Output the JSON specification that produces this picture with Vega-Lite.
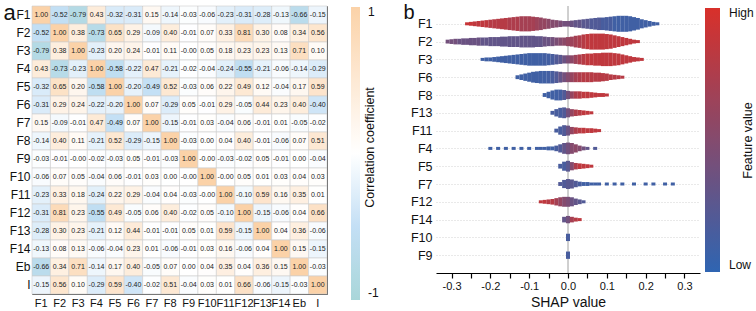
{
"$schema": "https://vega.github.io/schema/vega-lite/v6.json",
"padding": {"left": 2, "top": 0, "right": 0, "bottom": 0},
"spacing": 23,
"config": {"font": "Liberation Sans", "axis": {"labelColor": "#111", "titleColor": "#111", "titleFontWeight": "normal"}, "title": {"fontWeight": "normal", "color": "#111"}, "legend": {"labelColor": "#111"}},
"resolve": {"scale": {"color": "independent", "size": "independent"}, "legend": {"color": "independent"}},
"hconcat": [
{
"width": 295, "height": 288,
"view": {"stroke": "#555", "strokeWidth": 1},
"data": {"values": [
{"r":"F1","c":"F1","v":1.00,"t":"1.00"},{"r":"F1","c":"F2","v":-0.52,"t":"-0.52"},{"r":"F1","c":"F3","v":-0.79,"t":"-0.79"},{"r":"F1","c":"F4","v":0.43,"t":"0.43"},{"r":"F1","c":"F5","v":-0.32,"t":"-0.32"},{"r":"F1","c":"F6","v":-0.31,"t":"-0.31"},{"r":"F1","c":"F7","v":0.15,"t":"0.15"},{"r":"F1","c":"F8","v":-0.14,"t":"-0.14"},{"r":"F1","c":"F9","v":-0.03,"t":"-0.03"},{"r":"F1","c":"F10","v":-0.06,"t":"-0.06"},{"r":"F1","c":"F11","v":-0.23,"t":"-0.23"},{"r":"F1","c":"F12","v":-0.31,"t":"-0.31"},{"r":"F1","c":"F13","v":-0.28,"t":"-0.28"},{"r":"F1","c":"F14","v":-0.13,"t":"-0.13"},{"r":"F1","c":"Eb","v":-0.66,"t":"-0.66"},{"r":"F1","c":"I","v":-0.15,"t":"-0.15"},
{"r":"F2","c":"F1","v":-0.52,"t":"-0.52"},{"r":"F2","c":"F2","v":1.00,"t":"1.00"},{"r":"F2","c":"F3","v":0.38,"t":"0.38"},{"r":"F2","c":"F4","v":-0.73,"t":"-0.73"},{"r":"F2","c":"F5","v":0.65,"t":"0.65"},{"r":"F2","c":"F6","v":0.29,"t":"0.29"},{"r":"F2","c":"F7","v":-0.09,"t":"-0.09"},{"r":"F2","c":"F8","v":0.40,"t":"0.40"},{"r":"F2","c":"F9","v":-0.01,"t":"-0.01"},{"r":"F2","c":"F10","v":0.07,"t":"0.07"},{"r":"F2","c":"F11","v":0.33,"t":"0.33"},{"r":"F2","c":"F12","v":0.81,"t":"0.81"},{"r":"F2","c":"F13","v":0.30,"t":"0.30"},{"r":"F2","c":"F14","v":0.08,"t":"0.08"},{"r":"F2","c":"Eb","v":0.34,"t":"0.34"},{"r":"F2","c":"I","v":0.56,"t":"0.56"},
{"r":"F3","c":"F1","v":-0.79,"t":"-0.79"},{"r":"F3","c":"F2","v":0.38,"t":"0.38"},{"r":"F3","c":"F3","v":1.00,"t":"1.00"},{"r":"F3","c":"F4","v":-0.23,"t":"-0.23"},{"r":"F3","c":"F5","v":0.20,"t":"0.20"},{"r":"F3","c":"F6","v":0.24,"t":"0.24"},{"r":"F3","c":"F7","v":-0.01,"t":"-0.01"},{"r":"F3","c":"F8","v":0.11,"t":"0.11"},{"r":"F3","c":"F9","v":-0.00,"t":"-0.00"},{"r":"F3","c":"F10","v":0.05,"t":"0.05"},{"r":"F3","c":"F11","v":0.18,"t":"0.18"},{"r":"F3","c":"F12","v":0.23,"t":"0.23"},{"r":"F3","c":"F13","v":0.23,"t":"0.23"},{"r":"F3","c":"F14","v":0.13,"t":"0.13"},{"r":"F3","c":"Eb","v":0.71,"t":"0.71"},{"r":"F3","c":"I","v":0.10,"t":"0.10"},
{"r":"F4","c":"F1","v":0.43,"t":"0.43"},{"r":"F4","c":"F2","v":-0.73,"t":"-0.73"},{"r":"F4","c":"F3","v":-0.23,"t":"-0.23"},{"r":"F4","c":"F4","v":1.00,"t":"1.00"},{"r":"F4","c":"F5","v":-0.58,"t":"-0.58"},{"r":"F4","c":"F6","v":-0.22,"t":"-0.22"},{"r":"F4","c":"F7","v":0.47,"t":"0.47"},{"r":"F4","c":"F8","v":-0.21,"t":"-0.21"},{"r":"F4","c":"F9","v":-0.02,"t":"-0.02"},{"r":"F4","c":"F10","v":-0.04,"t":"-0.04"},{"r":"F4","c":"F11","v":-0.24,"t":"-0.24"},{"r":"F4","c":"F12","v":-0.55,"t":"-0.55"},{"r":"F4","c":"F13","v":-0.21,"t":"-0.21"},{"r":"F4","c":"F14","v":-0.06,"t":"-0.06"},{"r":"F4","c":"Eb","v":-0.14,"t":"-0.14"},{"r":"F4","c":"I","v":-0.29,"t":"-0.29"},
{"r":"F5","c":"F1","v":-0.32,"t":"-0.32"},{"r":"F5","c":"F2","v":0.65,"t":"0.65"},{"r":"F5","c":"F3","v":0.20,"t":"0.20"},{"r":"F5","c":"F4","v":-0.58,"t":"-0.58"},{"r":"F5","c":"F5","v":1.00,"t":"1.00"},{"r":"F5","c":"F6","v":-0.20,"t":"-0.20"},{"r":"F5","c":"F7","v":-0.49,"t":"-0.49"},{"r":"F5","c":"F8","v":0.52,"t":"0.52"},{"r":"F5","c":"F9","v":-0.03,"t":"-0.03"},{"r":"F5","c":"F10","v":0.06,"t":"0.06"},{"r":"F5","c":"F11","v":0.22,"t":"0.22"},{"r":"F5","c":"F12","v":0.49,"t":"0.49"},{"r":"F5","c":"F13","v":0.12,"t":"0.12"},{"r":"F5","c":"F14","v":-0.04,"t":"-0.04"},{"r":"F5","c":"Eb","v":0.17,"t":"0.17"},{"r":"F5","c":"I","v":0.59,"t":"0.59"},
{"r":"F6","c":"F1","v":-0.31,"t":"-0.31"},{"r":"F6","c":"F2","v":0.29,"t":"0.29"},{"r":"F6","c":"F3","v":0.24,"t":"0.24"},{"r":"F6","c":"F4","v":-0.22,"t":"-0.22"},{"r":"F6","c":"F5","v":-0.20,"t":"-0.20"},{"r":"F6","c":"F6","v":1.00,"t":"1.00"},{"r":"F6","c":"F7","v":0.07,"t":"0.07"},{"r":"F6","c":"F8","v":-0.29,"t":"-0.29"},{"r":"F6","c":"F9","v":0.05,"t":"0.05"},{"r":"F6","c":"F10","v":-0.01,"t":"-0.01"},{"r":"F6","c":"F11","v":0.29,"t":"0.29"},{"r":"F6","c":"F12","v":-0.05,"t":"-0.05"},{"r":"F6","c":"F13","v":0.44,"t":"0.44"},{"r":"F6","c":"F14","v":0.23,"t":"0.23"},{"r":"F6","c":"Eb","v":0.40,"t":"0.40"},{"r":"F6","c":"I","v":-0.40,"t":"-0.40"},
{"r":"F7","c":"F1","v":0.15,"t":"0.15"},{"r":"F7","c":"F2","v":-0.09,"t":"-0.09"},{"r":"F7","c":"F3","v":-0.01,"t":"-0.01"},{"r":"F7","c":"F4","v":0.47,"t":"0.47"},{"r":"F7","c":"F5","v":-0.49,"t":"-0.49"},{"r":"F7","c":"F6","v":0.07,"t":"0.07"},{"r":"F7","c":"F7","v":1.00,"t":"1.00"},{"r":"F7","c":"F8","v":-0.15,"t":"-0.15"},{"r":"F7","c":"F9","v":-0.01,"t":"-0.01"},{"r":"F7","c":"F10","v":0.03,"t":"0.03"},{"r":"F7","c":"F11","v":-0.04,"t":"-0.04"},{"r":"F7","c":"F12","v":0.06,"t":"0.06"},{"r":"F7","c":"F13","v":-0.01,"t":"-0.01"},{"r":"F7","c":"F14","v":0.01,"t":"0.01"},{"r":"F7","c":"Eb","v":-0.05,"t":"-0.05"},{"r":"F7","c":"I","v":-0.02,"t":"-0.02"},
{"r":"F8","c":"F1","v":-0.14,"t":"-0.14"},{"r":"F8","c":"F2","v":0.40,"t":"0.40"},{"r":"F8","c":"F3","v":0.11,"t":"0.11"},{"r":"F8","c":"F4","v":-0.21,"t":"-0.21"},{"r":"F8","c":"F5","v":0.52,"t":"0.52"},{"r":"F8","c":"F6","v":-0.29,"t":"-0.29"},{"r":"F8","c":"F7","v":-0.15,"t":"-0.15"},{"r":"F8","c":"F8","v":1.00,"t":"1.00"},{"r":"F8","c":"F9","v":-0.03,"t":"-0.03"},{"r":"F8","c":"F10","v":0.00,"t":"0.00"},{"r":"F8","c":"F11","v":0.04,"t":"0.04"},{"r":"F8","c":"F12","v":0.40,"t":"0.40"},{"r":"F8","c":"F13","v":-0.01,"t":"-0.01"},{"r":"F8","c":"F14","v":-0.06,"t":"-0.06"},{"r":"F8","c":"Eb","v":0.07,"t":"0.07"},{"r":"F8","c":"I","v":0.51,"t":"0.51"},
{"r":"F9","c":"F1","v":-0.03,"t":"-0.03"},{"r":"F9","c":"F2","v":-0.01,"t":"-0.01"},{"r":"F9","c":"F3","v":-0.00,"t":"-0.00"},{"r":"F9","c":"F4","v":-0.02,"t":"-0.02"},{"r":"F9","c":"F5","v":-0.03,"t":"-0.03"},{"r":"F9","c":"F6","v":0.05,"t":"0.05"},{"r":"F9","c":"F7","v":-0.01,"t":"-0.01"},{"r":"F9","c":"F8","v":-0.03,"t":"-0.03"},{"r":"F9","c":"F9","v":1.00,"t":"1.00"},{"r":"F9","c":"F10","v":-0.00,"t":"-0.00"},{"r":"F9","c":"F11","v":-0.03,"t":"-0.03"},{"r":"F9","c":"F12","v":-0.02,"t":"-0.02"},{"r":"F9","c":"F13","v":0.05,"t":"0.05"},{"r":"F9","c":"F14","v":-0.01,"t":"-0.01"},{"r":"F9","c":"Eb","v":0.00,"t":"0.00"},{"r":"F9","c":"I","v":-0.04,"t":"-0.04"},
{"r":"F10","c":"F1","v":-0.06,"t":"-0.06"},{"r":"F10","c":"F2","v":0.07,"t":"0.07"},{"r":"F10","c":"F3","v":0.05,"t":"0.05"},{"r":"F10","c":"F4","v":-0.04,"t":"-0.04"},{"r":"F10","c":"F5","v":0.06,"t":"0.06"},{"r":"F10","c":"F6","v":-0.01,"t":"-0.01"},{"r":"F10","c":"F7","v":0.03,"t":"0.03"},{"r":"F10","c":"F8","v":0.00,"t":"0.00"},{"r":"F10","c":"F9","v":-0.00,"t":"-0.00"},{"r":"F10","c":"F10","v":1.00,"t":"1.00"},{"r":"F10","c":"F11","v":-0.00,"t":"-0.00"},{"r":"F10","c":"F12","v":0.05,"t":"0.05"},{"r":"F10","c":"F13","v":0.01,"t":"0.01"},{"r":"F10","c":"F14","v":0.03,"t":"0.03"},{"r":"F10","c":"Eb","v":0.04,"t":"0.04"},{"r":"F10","c":"I","v":0.03,"t":"0.03"},
{"r":"F11","c":"F1","v":-0.23,"t":"-0.23"},{"r":"F11","c":"F2","v":0.33,"t":"0.33"},{"r":"F11","c":"F3","v":0.18,"t":"0.18"},{"r":"F11","c":"F4","v":-0.24,"t":"-0.24"},{"r":"F11","c":"F5","v":0.22,"t":"0.22"},{"r":"F11","c":"F6","v":0.29,"t":"0.29"},{"r":"F11","c":"F7","v":-0.04,"t":"-0.04"},{"r":"F11","c":"F8","v":0.04,"t":"0.04"},{"r":"F11","c":"F9","v":-0.03,"t":"-0.03"},{"r":"F11","c":"F10","v":-0.00,"t":"-0.00"},{"r":"F11","c":"F11","v":1.00,"t":"1.00"},{"r":"F11","c":"F12","v":-0.10,"t":"-0.10"},{"r":"F11","c":"F13","v":0.59,"t":"0.59"},{"r":"F11","c":"F14","v":0.16,"t":"0.16"},{"r":"F11","c":"Eb","v":0.35,"t":"0.35"},{"r":"F11","c":"I","v":0.01,"t":"0.01"},
{"r":"F12","c":"F1","v":-0.31,"t":"-0.31"},{"r":"F12","c":"F2","v":0.81,"t":"0.81"},{"r":"F12","c":"F3","v":0.23,"t":"0.23"},{"r":"F12","c":"F4","v":-0.55,"t":"-0.55"},{"r":"F12","c":"F5","v":0.49,"t":"0.49"},{"r":"F12","c":"F6","v":-0.05,"t":"-0.05"},{"r":"F12","c":"F7","v":0.06,"t":"0.06"},{"r":"F12","c":"F8","v":0.40,"t":"0.40"},{"r":"F12","c":"F9","v":-0.02,"t":"-0.02"},{"r":"F12","c":"F10","v":0.05,"t":"0.05"},{"r":"F12","c":"F11","v":-0.10,"t":"-0.10"},{"r":"F12","c":"F12","v":1.00,"t":"1.00"},{"r":"F12","c":"F13","v":-0.15,"t":"-0.15"},{"r":"F12","c":"F14","v":-0.06,"t":"-0.06"},{"r":"F12","c":"Eb","v":0.04,"t":"0.04"},{"r":"F12","c":"I","v":0.66,"t":"0.66"},
{"r":"F13","c":"F1","v":-0.28,"t":"-0.28"},{"r":"F13","c":"F2","v":0.30,"t":"0.30"},{"r":"F13","c":"F3","v":0.23,"t":"0.23"},{"r":"F13","c":"F4","v":-0.21,"t":"-0.21"},{"r":"F13","c":"F5","v":0.12,"t":"0.12"},{"r":"F13","c":"F6","v":0.44,"t":"0.44"},{"r":"F13","c":"F7","v":-0.01,"t":"-0.01"},{"r":"F13","c":"F8","v":-0.01,"t":"-0.01"},{"r":"F13","c":"F9","v":0.05,"t":"0.05"},{"r":"F13","c":"F10","v":0.01,"t":"0.01"},{"r":"F13","c":"F11","v":0.59,"t":"0.59"},{"r":"F13","c":"F12","v":-0.15,"t":"-0.15"},{"r":"F13","c":"F13","v":1.00,"t":"1.00"},{"r":"F13","c":"F14","v":0.04,"t":"0.04"},{"r":"F13","c":"Eb","v":0.36,"t":"0.36"},{"r":"F13","c":"I","v":-0.06,"t":"-0.06"},
{"r":"F14","c":"F1","v":-0.13,"t":"-0.13"},{"r":"F14","c":"F2","v":0.08,"t":"0.08"},{"r":"F14","c":"F3","v":0.13,"t":"0.13"},{"r":"F14","c":"F4","v":-0.06,"t":"-0.06"},{"r":"F14","c":"F5","v":-0.04,"t":"-0.04"},{"r":"F14","c":"F6","v":0.23,"t":"0.23"},{"r":"F14","c":"F7","v":0.01,"t":"0.01"},{"r":"F14","c":"F8","v":-0.06,"t":"-0.06"},{"r":"F14","c":"F9","v":-0.01,"t":"-0.01"},{"r":"F14","c":"F10","v":0.03,"t":"0.03"},{"r":"F14","c":"F11","v":0.16,"t":"0.16"},{"r":"F14","c":"F12","v":-0.06,"t":"-0.06"},{"r":"F14","c":"F13","v":0.04,"t":"0.04"},{"r":"F14","c":"F14","v":1.00,"t":"1.00"},{"r":"F14","c":"Eb","v":0.15,"t":"0.15"},{"r":"F14","c":"I","v":-0.15,"t":"-0.15"},
{"r":"Eb","c":"F1","v":-0.66,"t":"-0.66"},{"r":"Eb","c":"F2","v":0.34,"t":"0.34"},{"r":"Eb","c":"F3","v":0.71,"t":"0.71"},{"r":"Eb","c":"F4","v":-0.14,"t":"-0.14"},{"r":"Eb","c":"F5","v":0.17,"t":"0.17"},{"r":"Eb","c":"F6","v":0.40,"t":"0.40"},{"r":"Eb","c":"F7","v":-0.05,"t":"-0.05"},{"r":"Eb","c":"F8","v":0.07,"t":"0.07"},{"r":"Eb","c":"F9","v":0.00,"t":"0.00"},{"r":"Eb","c":"F10","v":0.04,"t":"0.04"},{"r":"Eb","c":"F11","v":0.35,"t":"0.35"},{"r":"Eb","c":"F12","v":0.04,"t":"0.04"},{"r":"Eb","c":"F13","v":0.36,"t":"0.36"},{"r":"Eb","c":"F14","v":0.15,"t":"0.15"},{"r":"Eb","c":"Eb","v":1.00,"t":"1.00"},{"r":"Eb","c":"I","v":-0.03,"t":"-0.03"},
{"r":"I","c":"F1","v":-0.15,"t":"-0.15"},{"r":"I","c":"F2","v":0.56,"t":"0.56"},{"r":"I","c":"F3","v":0.10,"t":"0.10"},{"r":"I","c":"F4","v":-0.29,"t":"-0.29"},{"r":"I","c":"F5","v":0.59,"t":"0.59"},{"r":"I","c":"F6","v":-0.40,"t":"-0.40"},{"r":"I","c":"F7","v":-0.02,"t":"-0.02"},{"r":"I","c":"F8","v":0.51,"t":"0.51"},{"r":"I","c":"F9","v":-0.04,"t":"-0.04"},{"r":"I","c":"F10","v":0.03,"t":"0.03"},{"r":"I","c":"F11","v":0.01,"t":"0.01"},{"r":"I","c":"F12","v":0.66,"t":"0.66"},{"r":"I","c":"F13","v":-0.06,"t":"-0.06"},{"r":"I","c":"F14","v":-0.15,"t":"-0.15"},{"r":"I","c":"Eb","v":-0.03,"t":"-0.03"},{"r":"I","c":"I","v":1.00,"t":"1.00"}
]},
"encoding": {
"x": {"field": "c", "type": "nominal", "sort": ["F1","F2","F3","F4","F5","F6","F7","F8","F9","F10","F11","F12","F13","F14","Eb","I"], "scale": {"paddingInner": 0, "paddingOuter": 0}, "axis": {"orient": "bottom", "labelAngle": 0, "ticks": false, "domain": false, "labelFontSize": 11, "labelPadding": 3, "title": "Correlation coefficient", "titleFontSize": 12.5, "titleAngle": 270, "titleX": 337, "titleY": -147, "titleAlign": "center", "titleBaseline": "middle"}},
"y": {"field": "r", "type": "nominal", "sort": ["F1","F2","F3","F4","F5","F6","F7","F8","F9","F10","F11","F12","F13","F14","Eb","I"], "scale": {"paddingInner": 0, "paddingOuter": 0}, "axis": {"ticks": false, "domain": false, "labelFontSize": 12, "labelPadding": 2, "title": "a", "titleAngle": 0, "titleFontSize": 22, "titleX": -29, "titleY": 13, "titleAlign": "left", "titleBaseline": "alphabetic"}}
},
"layer": [
{"mark": {"type": "rect", "stroke": "#cfcfcf", "strokeWidth": 0.6},
 "encoding": {"color": {"field": "v", "type": "quantitative", "scale": {"domain": [-1, -0.5, 0, 1], "range": ["#a9d6d9", "#c3dff5", "#ffffff", "#fbd2a8"], "interpolate": "rgb"},
   "legend": {"orient": "none", "legendX": 319, "legendY": 1, "direction": "vertical", "gradientLength": 293, "gradientThickness": 9, "gradientStrokeWidth": 0, "values": [-1, 1], "labelExpr": "datum.value > 0 ? '1' : '-1'", "labelFontSize": 12, "labelOffset": 8, "title": null}}}},
{"mark": {"type": "text", "fontSize": 7, "color": "#222"}, "encoding": {"text": {"field": "t"}}}
]
},
{
"width": 264, "height": 267,
"view": {"stroke": null},
"resolve": {"axis": {"x": "independent"}},
"layer": [
{"data": {"values": [{}]}, "mark": {"type": "rule", "color": "#a0a0a0", "strokeWidth": 1}, "encoding": {"x": {"datum": 0, "type": "quantitative", "axis": {"orient": "top", "labels": false, "ticks": false, "domain": false, "grid": false, "title": "Feature value", "titleFontSize": 12.5, "titleAngle": 270, "titleX": 311, "titleY": 134, "titleAlign": "center", "titleBaseline": "middle"}}}},
{"data": {"values": [
{"f":"F1","s":-0.26,"n":1,"c":0.9},{"f":"F1","s":-0.25,"n":2,"c":0.9},{"f":"F1","s":-0.24,"n":3,"c":0.85},{"f":"F1","s":-0.23,"n":4,"c":0.85},{"f":"F1","s":-0.22,"n":5,"c":0.85},{"f":"F1","s":-0.21,"n":6,"c":0.85},{"f":"F1","s":-0.20,"n":7,"c":0.8},{"f":"F1","s":-0.19,"n":8,"c":0.8},{"f":"F1","s":-0.18,"n":9,"c":0.8},{"f":"F1","s":-0.17,"n":10,"c":0.8},{"f":"F1","s":-0.16,"n":11,"c":0.8},{"f":"F1","s":-0.15,"n":12,"c":0.75},{"f":"F1","s":-0.14,"n":13,"c":0.75},{"f":"F1","s":-0.13,"n":14,"c":0.75},{"f":"F1","s":-0.12,"n":15,"c":0.7},{"f":"F1","s":-0.11,"n":15,"c":0.7},{"f":"F1","s":-0.10,"n":15,"c":0.7},{"f":"F1","s":-0.09,"n":14,"c":0.7},{"f":"F1","s":-0.08,"n":13,"c":0.65},{"f":"F1","s":-0.07,"n":12,"c":0.6},{"f":"F1","s":-0.06,"n":10,"c":0.6},{"f":"F1","s":-0.05,"n":9,"c":0.55},{"f":"F1","s":-0.04,"n":7,"c":0.5},{"f":"F1","s":-0.03,"n":6,"c":0.5},{"f":"F1","s":-0.02,"n":5,"c":0.45},{"f":"F1","s":-0.01,"n":4,"c":0.4},{"f":"F1","s":0.00,"n":4,"c":0.4},{"f":"F1","s":0.01,"n":5,"c":0.35},{"f":"F1","s":0.02,"n":6,"c":0.3},{"f":"F1","s":0.03,"n":7,"c":0.3},{"f":"F1","s":0.04,"n":8,"c":0.25},{"f":"F1","s":0.05,"n":9,"c":0.25},{"f":"F1","s":0.06,"n":10,"c":0.2},{"f":"F1","s":0.07,"n":11,"c":0.2},{"f":"F1","s":0.08,"n":12,"c":0.2},{"f":"F1","s":0.09,"n":12,"c":0.15},{"f":"F1","s":0.10,"n":13,"c":0.15},{"f":"F1","s":0.11,"n":14,"c":0.15},{"f":"F1","s":0.12,"n":15,"c":0.1},{"f":"F1","s":0.13,"n":16,"c":0.1},{"f":"F1","s":0.14,"n":16,"c":0.1},{"f":"F1","s":0.15,"n":16,"c":0.1},{"f":"F1","s":0.16,"n":15,"c":0.1},{"f":"F1","s":0.17,"n":13,"c":0.1},{"f":"F1","s":0.18,"n":11,"c":0.1},{"f":"F1","s":0.19,"n":8,"c":0.1},{"f":"F1","s":0.20,"n":6,"c":0.1},{"f":"F1","s":0.21,"n":4,"c":0.1},{"f":"F1","s":0.22,"n":2,"c":0.1},{"f":"F1","s":0.23,"n":1,"c":0.1},
{"f":"F2","s":-0.31,"n":2,"c":0.4},{"f":"F2","s":-0.30,"n":3,"c":0.4},{"f":"F2","s":-0.29,"n":4,"c":0.4},{"f":"F2","s":-0.28,"n":4,"c":0.35},{"f":"F2","s":-0.27,"n":5,"c":0.35},{"f":"F2","s":-0.26,"n":5,"c":0.35},{"f":"F2","s":-0.25,"n":6,"c":0.35},{"f":"F2","s":-0.24,"n":6,"c":0.35},{"f":"F2","s":-0.23,"n":7,"c":0.35},{"f":"F2","s":-0.22,"n":7,"c":0.3},{"f":"F2","s":-0.21,"n":7,"c":0.3},{"f":"F2","s":-0.20,"n":8,"c":0.3},{"f":"F2","s":-0.19,"n":8,"c":0.3},{"f":"F2","s":-0.18,"n":8,"c":0.3},{"f":"F2","s":-0.17,"n":9,"c":0.3},{"f":"F2","s":-0.16,"n":9,"c":0.3},{"f":"F2","s":-0.15,"n":10,"c":0.3},{"f":"F2","s":-0.14,"n":10,"c":0.3},{"f":"F2","s":-0.13,"n":10,"c":0.3},{"f":"F2","s":-0.12,"n":11,"c":0.3},{"f":"F2","s":-0.11,"n":11,"c":0.3},{"f":"F2","s":-0.10,"n":11,"c":0.3},{"f":"F2","s":-0.09,"n":11,"c":0.3},{"f":"F2","s":-0.08,"n":10,"c":0.3},{"f":"F2","s":-0.07,"n":10,"c":0.3},{"f":"F2","s":-0.06,"n":9,"c":0.35},{"f":"F2","s":-0.05,"n":8,"c":0.35},{"f":"F2","s":-0.04,"n":8,"c":0.4},{"f":"F2","s":-0.03,"n":7,"c":0.45},{"f":"F2","s":-0.02,"n":7,"c":0.5},{"f":"F2","s":-0.01,"n":7,"c":0.55},{"f":"F2","s":0.00,"n":8,"c":0.6},{"f":"F2","s":0.01,"n":9,"c":0.65},{"f":"F2","s":0.02,"n":11,"c":0.7},{"f":"F2","s":0.03,"n":12,"c":0.75},{"f":"F2","s":0.04,"n":14,"c":0.8},{"f":"F2","s":0.05,"n":15,"c":0.85},{"f":"F2","s":0.06,"n":16,"c":0.85},{"f":"F2","s":0.07,"n":16,"c":0.85},{"f":"F2","s":0.08,"n":16,"c":0.85},{"f":"F2","s":0.09,"n":16,"c":0.85},{"f":"F2","s":0.10,"n":15,"c":0.85},{"f":"F2","s":0.11,"n":14,"c":0.85},{"f":"F2","s":0.12,"n":12,"c":0.85},{"f":"F2","s":0.13,"n":10,"c":0.85},{"f":"F2","s":0.14,"n":8,"c":0.85},{"f":"F2","s":0.15,"n":6,"c":0.85},{"f":"F2","s":0.16,"n":4,"c":0.85},{"f":"F2","s":0.17,"n":2,"c":0.85},{"f":"F2","s":0.18,"n":1,"c":0.85},
{"f":"F3","s":-0.22,"n":1,"c":0.1},{"f":"F3","s":-0.21,"n":2,"c":0.1},{"f":"F3","s":-0.20,"n":2,"c":0.1},{"f":"F3","s":-0.19,"n":3,"c":0.1},{"f":"F3","s":-0.18,"n":4,"c":0.1},{"f":"F3","s":-0.17,"n":5,"c":0.1},{"f":"F3","s":-0.16,"n":6,"c":0.1},{"f":"F3","s":-0.15,"n":7,"c":0.1},{"f":"F3","s":-0.14,"n":8,"c":0.1},{"f":"F3","s":-0.13,"n":9,"c":0.1},{"f":"F3","s":-0.12,"n":10,"c":0.1},{"f":"F3","s":-0.11,"n":11,"c":0.1},{"f":"F3","s":-0.10,"n":12,"c":0.1},{"f":"F3","s":-0.09,"n":12,"c":0.1},{"f":"F3","s":-0.08,"n":12,"c":0.1},{"f":"F3","s":-0.07,"n":12,"c":0.1},{"f":"F3","s":-0.06,"n":12,"c":0.12},{"f":"F3","s":-0.05,"n":11,"c":0.12},{"f":"F3","s":-0.04,"n":10,"c":0.15},{"f":"F3","s":-0.03,"n":9,"c":0.2},{"f":"F3","s":-0.02,"n":8,"c":0.25},{"f":"F3","s":-0.01,"n":7,"c":0.35},{"f":"F3","s":0.00,"n":7,"c":0.45},{"f":"F3","s":0.01,"n":7,"c":0.55},{"f":"F3","s":0.02,"n":8,"c":0.65},{"f":"F3","s":0.03,"n":9,"c":0.75},{"f":"F3","s":0.04,"n":10,"c":0.8},{"f":"F3","s":0.05,"n":11,"c":0.85},{"f":"F3","s":0.06,"n":11,"c":0.85},{"f":"F3","s":0.07,"n":12,"c":0.85},{"f":"F3","s":0.08,"n":12,"c":0.85},{"f":"F3","s":0.09,"n":13,"c":0.85},{"f":"F3","s":0.10,"n":13,"c":0.85},{"f":"F3","s":0.11,"n":13,"c":0.85},{"f":"F3","s":0.12,"n":12,"c":0.85},{"f":"F3","s":0.13,"n":11,"c":0.85},{"f":"F3","s":0.14,"n":9,"c":0.85},{"f":"F3","s":0.15,"n":7,"c":0.85},{"f":"F3","s":0.16,"n":5,"c":0.85},{"f":"F3","s":0.17,"n":3,"c":0.85},{"f":"F3","s":0.18,"n":2,"c":0.85},{"f":"F3","s":0.19,"n":1,"c":0.85},
{"f":"F6","s":-0.13,"n":2,"c":0.1},{"f":"F6","s":-0.12,"n":4,"c":0.1},{"f":"F6","s":-0.11,"n":6,"c":0.1},{"f":"F6","s":-0.10,"n":8,"c":0.1},{"f":"F6","s":-0.09,"n":10,"c":0.1},{"f":"F6","s":-0.08,"n":11,"c":0.1},{"f":"F6","s":-0.07,"n":12,"c":0.1},{"f":"F6","s":-0.06,"n":12,"c":0.1},{"f":"F6","s":-0.05,"n":12,"c":0.12},{"f":"F6","s":-0.04,"n":12,"c":0.15},{"f":"F6","s":-0.03,"n":11,"c":0.2},{"f":"F6","s":-0.02,"n":10,"c":0.3},{"f":"F6","s":-0.01,"n":9,"c":0.4},{"f":"F6","s":0.00,"n":9,"c":0.5},{"f":"F6","s":0.01,"n":9,"c":0.6},{"f":"F6","s":0.02,"n":9,"c":0.7},{"f":"F6","s":0.03,"n":9,"c":0.75},{"f":"F6","s":0.04,"n":9,"c":0.8},{"f":"F6","s":0.05,"n":9,"c":0.8},{"f":"F6","s":0.06,"n":9,"c":0.8},{"f":"F6","s":0.07,"n":8,"c":0.8},{"f":"F6","s":0.08,"n":8,"c":0.8},{"f":"F6","s":0.09,"n":7,"c":0.8},{"f":"F6","s":0.10,"n":6,"c":0.8},{"f":"F6","s":0.11,"n":4,"c":0.8},{"f":"F6","s":0.12,"n":3,"c":0.8},{"f":"F6","s":0.13,"n":2,"c":0.8},{"f":"F6","s":0.14,"n":1,"c":0.8},
{"f":"F8","s":-0.06,"n":2,"c":0.1},{"f":"F8","s":-0.05,"n":5,"c":0.1},{"f":"F8","s":-0.04,"n":8,"c":0.1},{"f":"F8","s":-0.03,"n":10,"c":0.1},{"f":"F8","s":-0.02,"n":10,"c":0.12},{"f":"F8","s":-0.01,"n":9,"c":0.2},{"f":"F8","s":0.00,"n":7,"c":0.4},{"f":"F8","s":0.01,"n":6,"c":0.6},{"f":"F8","s":0.02,"n":6,"c":0.75},{"f":"F8","s":0.03,"n":6,"c":0.8},{"f":"F8","s":0.04,"n":5,"c":0.85},{"f":"F8","s":0.05,"n":5,"c":0.85},{"f":"F8","s":0.06,"n":4,"c":0.85},{"f":"F8","s":0.07,"n":3,"c":0.85},{"f":"F8","s":0.08,"n":2,"c":0.85},{"f":"F8","s":0.09,"n":2,"c":0.85},{"f":"F8","s":0.10,"n":1,"c":0.85},
{"f":"F13","s":-0.04,"n":2,"c":0.15},{"f":"F13","s":-0.03,"n":6,"c":0.15},{"f":"F13","s":-0.02,"n":9,"c":0.15},{"f":"F13","s":-0.01,"n":10,"c":0.2},{"f":"F13","s":0.00,"n":8,"c":0.4},{"f":"F13","s":0.01,"n":6,"c":0.6},{"f":"F13","s":0.02,"n":5,"c":0.75},{"f":"F13","s":0.03,"n":4,"c":0.8},{"f":"F13","s":0.04,"n":3,"c":0.85},{"f":"F13","s":0.05,"n":2,"c":0.85},{"f":"F13","s":0.06,"n":1,"c":0.85},
{"f":"F11","s":-0.03,"n":2,"c":0.15},{"f":"F11","s":-0.02,"n":7,"c":0.15},{"f":"F11","s":-0.01,"n":10,"c":0.2},{"f":"F11","s":0.00,"n":9,"c":0.35},{"f":"F11","s":0.01,"n":6,"c":0.6},{"f":"F11","s":0.02,"n":5,"c":0.75},{"f":"F11","s":0.03,"n":4,"c":0.8},{"f":"F11","s":0.04,"n":4,"c":0.85},{"f":"F11","s":0.05,"n":3,"c":0.85},{"f":"F11","s":0.06,"n":3,"c":0.85},{"f":"F11","s":0.07,"n":2,"c":0.85},{"f":"F11","s":0.08,"n":1,"c":0.85},
{"f":"F4","s":-0.20,"n":1,"c":0.1},{"f":"F4","s":-0.18,"n":1,"c":0.1},{"f":"F4","s":-0.16,"n":1,"c":0.1},{"f":"F4","s":-0.14,"n":1,"c":0.1},{"f":"F4","s":-0.12,"n":1,"c":0.1},{"f":"F4","s":-0.10,"n":1,"c":0.1},{"f":"F4","s":-0.08,"n":1,"c":0.1},{"f":"F4","s":-0.07,"n":1,"c":0.1},{"f":"F4","s":-0.06,"n":1,"c":0.1},{"f":"F4","s":-0.05,"n":2,"c":0.1},{"f":"F4","s":-0.04,"n":2,"c":0.1},{"f":"F4","s":-0.03,"n":4,"c":0.15},{"f":"F4","s":-0.02,"n":7,"c":0.2},{"f":"F4","s":-0.01,"n":10,"c":0.3},{"f":"F4","s":0.00,"n":11,"c":0.4},{"f":"F4","s":0.01,"n":10,"c":0.5},{"f":"F4","s":0.02,"n":7,"c":0.55},{"f":"F4","s":0.03,"n":4,"c":0.5},{"f":"F4","s":0.04,"n":2,"c":0.4},{"f":"F4","s":0.05,"n":1,"c":0.3},{"f":"F4","s":0.07,"n":1,"c":0.2},
{"f":"F5","s":-0.02,"n":3,"c":0.15},{"f":"F5","s":-0.01,"n":8,"c":0.15},{"f":"F5","s":0.00,"n":10,"c":0.25},{"f":"F5","s":0.01,"n":7,"c":0.5},{"f":"F5","s":0.02,"n":5,"c":0.75},{"f":"F5","s":0.03,"n":4,"c":0.85},{"f":"F5","s":0.04,"n":3,"c":0.85},{"f":"F5","s":0.05,"n":2,"c":0.85},{"f":"F5","s":0.06,"n":1,"c":0.85},
{"f":"F7","s":-0.02,"n":2,"c":0.2},{"f":"F7","s":-0.01,"n":7,"c":0.2},{"f":"F7","s":0.00,"n":9,"c":0.25},{"f":"F7","s":0.01,"n":8,"c":0.25},{"f":"F7","s":0.02,"n":5,"c":0.2},{"f":"F7","s":0.03,"n":3,"c":0.15},{"f":"F7","s":0.04,"n":2,"c":0.1},{"f":"F7","s":0.05,"n":2,"c":0.1},{"f":"F7","s":0.06,"n":1,"c":0.1},{"f":"F7","s":0.07,"n":1,"c":0.1},{"f":"F7","s":0.08,"n":1,"c":0.1},{"f":"F7","s":0.10,"n":1,"c":0.1},{"f":"F7","s":0.12,"n":1,"c":0.1},{"f":"F7","s":0.14,"n":1,"c":0.1},{"f":"F7","s":0.17,"n":1,"c":0.1},{"f":"F7","s":0.20,"n":1,"c":0.1},{"f":"F7","s":0.22,"n":1,"c":0.1},{"f":"F7","s":0.25,"n":1,"c":0.1},{"f":"F7","s":0.27,"n":1,"c":0.1},
{"f":"F12","s":-0.07,"n":1,"c":0.85},{"f":"F12","s":-0.06,"n":2,"c":0.85},{"f":"F12","s":-0.05,"n":3,"c":0.8},{"f":"F12","s":-0.04,"n":4,"c":0.8},{"f":"F12","s":-0.03,"n":6,"c":0.7},{"f":"F12","s":-0.02,"n":8,"c":0.6},{"f":"F12","s":-0.01,"n":9,"c":0.5},{"f":"F12","s":0.00,"n":9,"c":0.45},{"f":"F12","s":0.01,"n":8,"c":0.35},{"f":"F12","s":0.02,"n":5,"c":0.3},{"f":"F12","s":0.03,"n":3,"c":0.25},{"f":"F12","s":0.04,"n":1,"c":0.2},
{"f":"F14","s":-0.01,"n":4,"c":0.3},{"f":"F14","s":0.00,"n":6,"c":0.4},{"f":"F14","s":0.01,"n":4,"c":0.7},{"f":"F14","s":0.02,"n":2,"c":0.8},{"f":"F14","s":0.03,"n":1,"c":0.85},
{"f":"F10","s":0.00,"n":6,"c":0.15},
{"f":"F9","s":0.00,"n":6,"c":0.15}
]},
"mark": {"type": "tick", "orient": "vertical", "thickness": 4, "opacity": 1},
"encoding": {
"x": {"field": "s", "type": "quantitative", "scale": {"domain": [-0.34, 0.34], "nice": false, "zero": false},
  "axis": {"orient": "bottom", "values": [-0.3,-0.25,-0.2,-0.15,-0.1,-0.05,0,0.05,0.1,0.15,0.2,0.25,0.3], "labelExpr": "abs(round(datum.value*20)) % 2 == 0 ? replace(format(datum.value, '.1f'), '−', '-') : ''", "title": "SHAP value", "titleFontSize": 14, "labelFontSize": 11, "domainColor": "#000", "tickColor": "#000", "tickSize": 5, "domainWidth": 1.2, "tickWidth": 1.2, "grid": false, "labelPadding": 2, "titlePadding": 4, "labelFlush": false}},
"y": {"field": "f", "type": "nominal", "sort": ["F1","F2","F3","F6","F8","F13","F11","F4","F5","F7","F12","F14","F10","F9"], "scale": {"type": "point", "padding": 1},
  "axis": {"title": "b", "titleAngle": 0, "titleFontSize": 20, "titleX": -33, "titleY": 12, "titleAlign": "left", "titleBaseline": "alphabetic", "domain": false, "ticks": false, "labelFontSize": 12.5, "labelPadding": 4, "grid": true, "gridColor": "#c8c8c8", "gridDash": [1, 2], "gridWidth": 0.8}},
"size": {"field": "n", "type": "quantitative", "scale": {"domain": [1, 16], "range": [3, 16]}, "legend": null},
"color": {"field": "c", "type": "quantitative", "scale": {"domain": [0, 1], "range": ["#2f65b2", "#d8302a"], "interpolate": "rgb"},
  "legend": {"orient": "none", "legendX": 269, "legendY": 2, "direction": "vertical", "gradientLength": 264, "gradientThickness": 15, "gradientStrokeWidth": 0, "values": [0, 1], "labelExpr": "datum.value > 0.5 ? 'High' : 'Low'", "labelFontSize": 12, "labelOffset": 9, "title": null}}
}}
]
}
]
}
